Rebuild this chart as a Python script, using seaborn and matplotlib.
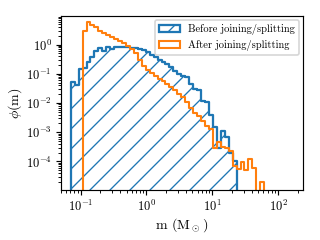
import numpy as np
import matplotlib
matplotlib.use("Agg")
import matplotlib.pyplot as plt
import seaborn as sns

# bin edges (log spaced) shared by both histograms
edges = list(np.logspace(-1.15, 1.85, 51))
centers = [np.sqrt(a * b) for a, b in zip(edges[:-1], edges[1:])]

# phi(m) per bin
before = [
    0.052, 0.04, 0.15, 0.16, 0.26, 0.39, 0.59, 0.76, 0.6, 0.8,
    0.7, 0.85, 0.85, 0.82, 0.8, 0.78, 0.76, 0.72, 0.65, 0.55,
    0.45, 0.38, 0.3, 0.25, 0.21, 0.17, 0.13, 0.1, 0.085, 0.08,
    0.045, 0.03, 0.028, 0.012, 0.011, 0.004, 0.0015, 0.0003, 0.0011, 0.0007,
    0.0002, 0.0001, 0, 0, 0, 0, 0, 0, 0, 0,
]
after = [
    0, 0, 0, 2.9, 6.0, 4.6, 3.9, 3.0, 2.6, 2.2,
    1.8, 1.55, 1.3, 1.1, 0.9, 0.72, 0.52, 0.3, 0.18, 0.14,
    0.11, 0.085, 0.068, 0.055, 0.045, 0.036, 0.027, 0.021, 0.016, 0.011,
    0.007, 0.0045, 0.0035, 0.0025, 0.0016, 0.0013, 0.00028, 0.00045, 0.00032, 0.0003,
    0.00022, 7e-5, 5.5e-5, 9.5e-5, 5e-5, 1.25e-4, 6e-5, 0, 2e-5, 0,
]

DPI = 120
plt.rcParams["font.family"] = "serif"
plt.rcParams["font.serif"] = ["cmr10"]
plt.rcParams["mathtext.fontset"] = "cm"
plt.rcParams["axes.formatter.use_mathtext"] = True
plt.rcParams["axes.unicode_minus"] = False
plt.rcParams["hatch.linewidth"] = 0.8
plt.rcParams["axes.linewidth"] = 0.7
plt.rcParams["xtick.major.width"] = 0.7
plt.rcParams["ytick.major.width"] = 0.7
plt.rcParams["xtick.minor.width"] = 0.55
plt.rcParams["ytick.minor.width"] = 0.55
plt.rcParams["xtick.major.size"] = 3
plt.rcParams["ytick.major.size"] = 3
plt.rcParams["xtick.minor.size"] = 1.7
plt.rcParams["ytick.minor.size"] = 1.7

fig = plt.figure(figsize=(320 / DPI, 240 / DPI), dpi=DPI)
ax = fig.add_axes([0.19, 0.208, 0.757, 0.725])

sns.histplot(x=centers, weights=before, bins=edges, element="step", fill=True,
             color="#1f77b4", facecolor="none", edgecolor="#1f77b4", hatch="//",
             linewidth=1.35, label="Before joining/splitting", ax=ax)
sns.histplot(x=centers, weights=after, bins=edges, element="step", fill=True,
             color="#ff7f0e", facecolor="none", edgecolor="#ff7f0e",
             linewidth=1.25, label="After joining/splitting", ax=ax)

ax.set_xscale("log")
ax.set_yscale("log")
ax.set_xlim(0.05, 240)
ax.set_ylim(1.05e-5, 9.5)
ax.tick_params(labelsize=7.5, pad=2.5)
ax.set_xlabel(r"m (M$_\odot$)", fontsize=8.4, labelpad=1)
ax.set_ylabel(r"$\phi$(m)", fontsize=8.4, labelpad=1)
ax.legend(loc="upper right", fontsize=6.3, borderaxespad=0.35)

fig.savefig("out.png", dpi=DPI)
